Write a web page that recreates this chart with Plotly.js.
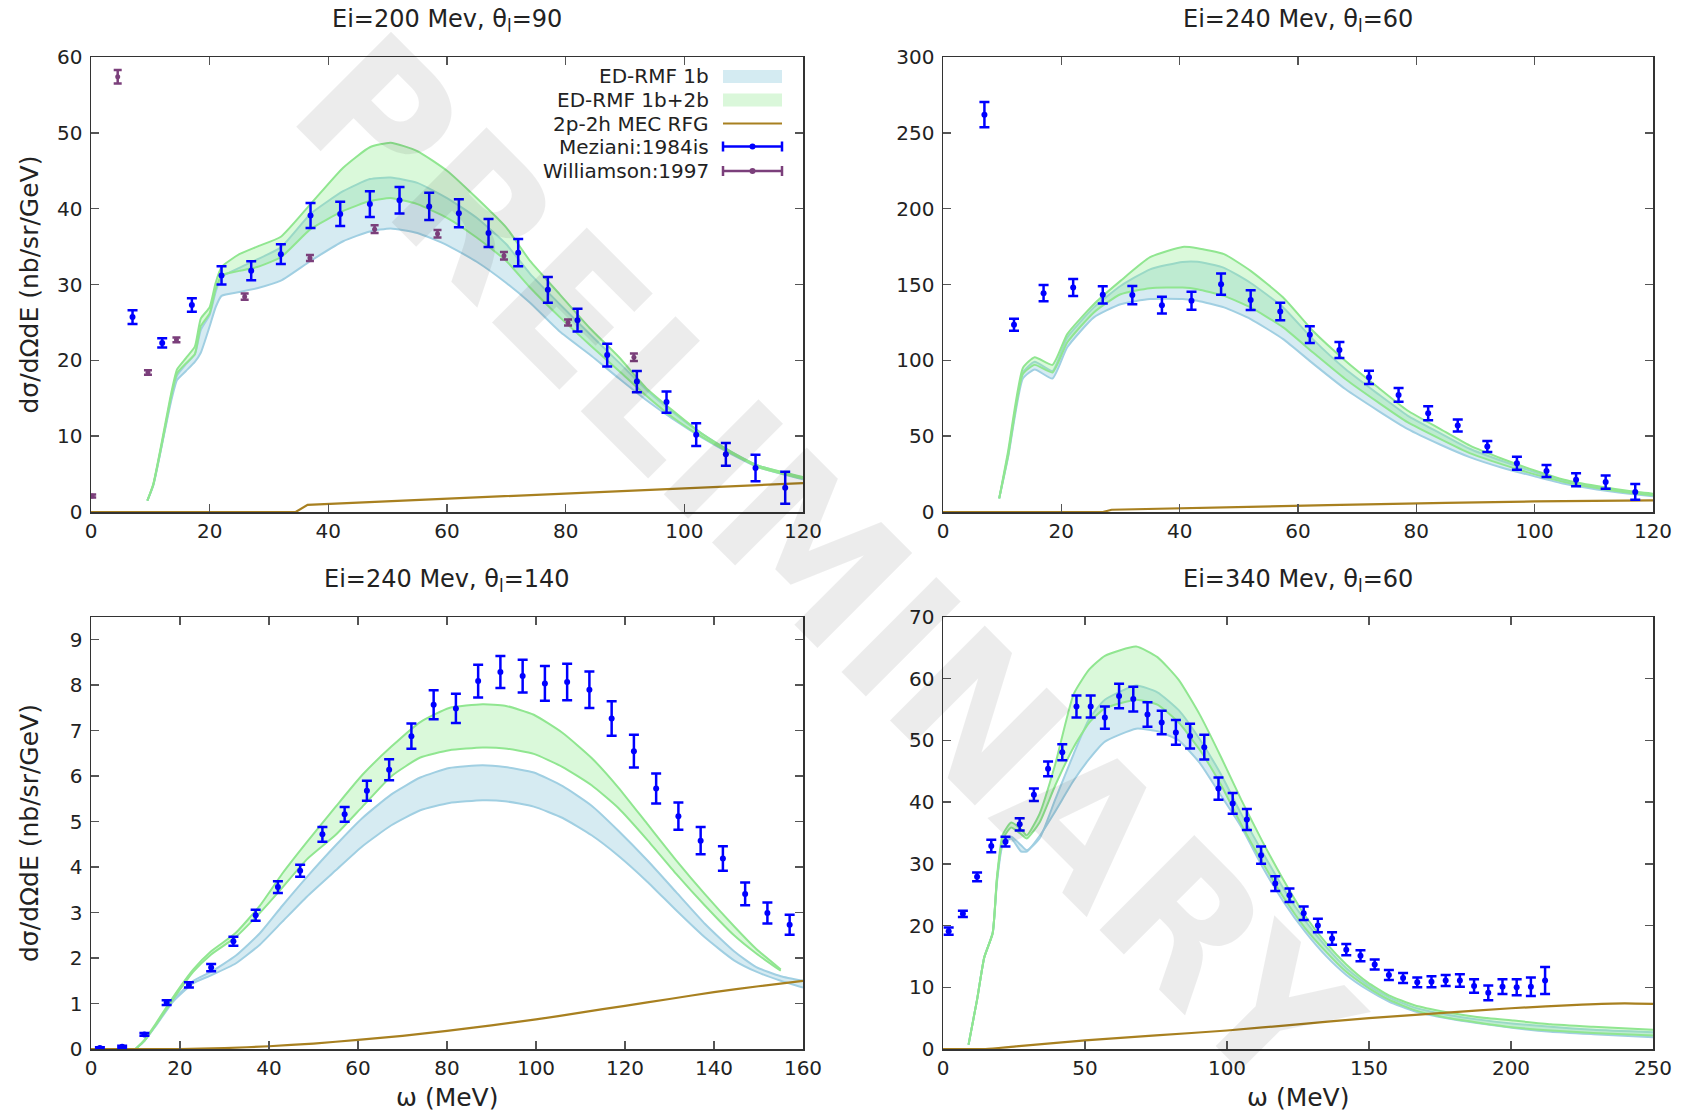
<!DOCTYPE html>
<html>
<head>
<meta charset="utf-8">
<script src="https://cdn.plot.ly/plotly-3.0.1.min.js"></script>
<style>html,body{margin:0;padding:0;background:#fff}#chart{width:1683px;height:1112px}</style>
</head>
<body>
<div id="chart"></div>
<script>
// ---------------- Panel 1: Ei=200 MeV, theta=90 ----------------
const p1BandX   = [9.5,10.5,12,13.5,14.5,16,17.5,18.5,20,21,22,25,28,32,37,42.5,47,50.5,55,60,65,70,74,79,84,89,93.5,98,103,108,112.5,120];
const p1BlueLo  = [1.5,3.5,9.0,14.6,17.4,18.6,19.8,21.0,24.5,27.0,28.5,29.0,29.5,30.5,33.1,35.7,37.0,37.4,36.8,35.2,33.0,30.2,27.6,23.8,20.8,17.6,14.8,12.3,9.8,7.6,5.9,4.3];
const p1BlueHi  = [1.5,3.6,9.2,15.0,18.0,19.5,20.8,24.0,26.0,29.0,31.0,32.2,33.3,34.9,39.3,42.3,43.9,44.1,43.4,41.4,38.8,35.3,31.4,27.4,23.5,19.7,16.2,13.2,10.3,7.9,6.1,4.5];
const p1GreenLo = [1.5,3.6,9.2,15.2,18.3,19.6,20.8,24.5,26.2,29.4,31.2,31.8,32.3,33.6,37.3,39.7,41.0,41.4,40.6,38.8,36.2,33.1,29.6,25.7,22.1,18.6,15.4,12.5,9.9,7.7,5.9,4.4];
const p1GreenHi = [1.5,3.7,9.5,15.6,18.8,20.3,21.8,25.5,27.0,30.2,32.3,34.0,35.0,36.3,40.6,45.4,48.1,48.7,47.6,45.0,41.4,37.5,33.1,28.7,24.3,20.4,16.4,13.4,10.3,7.9,6.1,4.6];
const p1MecX    = [0,34.5,36.5,60,80,100,120];
const p1MecY    = [0,0,0.95,1.75,2.45,3.1,3.8];
const p1MezX    = [7,12,17,22,27,32,37,42,47,52,57,62,67,72,77,82,87,92,97,102,107,112,117];
const p1MezY    = [25.7,22.3,27.3,31.2,31.8,34.0,39.1,39.3,40.6,41.1,40.3,39.4,36.8,34.2,29.3,25.3,20.7,17.2,14.5,10.2,7.6,5.8,3.2];
const p1MezE    = [0.9,0.6,0.9,1.2,1.25,1.3,1.65,1.6,1.7,1.75,1.8,1.85,1.85,1.8,1.7,1.5,1.5,1.4,1.4,1.5,1.5,1.75,2.1];
const p1WilX    = [0.2,4.5,9.6,14.4,25.9,36.9,47.8,58.4,69.6,80.4,91.5];
const p1WilY    = [2.1,57.4,18.4,22.7,28.4,33.5,37.3,36.7,33.8,25.0,20.4];
const p1WilE    = [0.2,0.9,0.3,0.3,0.4,0.4,0.5,0.5,0.5,0.4,0.5];

// ---------------- Panel 2: Ei=240 MeV, theta=60 ----------------
const p2BandX   = [9.5,11,13.5,15.5,18.5,21,25.5,30,35,40.5,43,47.5,52,57.5,62.5,68,73.5,78.5,84,89,94.5,100,105,110.5,116,120];
const p2BlueLo  = [9,36,88,94,88,108.6,128.3,137,140.4,140.4,139.3,134.9,127.2,114,98,81.1,66.9,54.8,44.5,36.2,29.2,23.5,18.6,14.9,12.1,10.3];
const p2BlueHi  = [9,38,92,99,93,115,134.9,149,160,164.9,165,161,151,134.9,114,94.3,77.9,63.6,52,41.7,33.6,26.3,20.4,16.4,13.2,11.4];
const p2GreenLo = [9,37,91,97,92,111.8,131.6,143.6,147.6,148,146.9,142.5,134.9,121.7,105.3,87.7,72.4,59.2,48.2,38.8,31.4,24.8,19.7,15.8,12.7,11];
const p2GreenHi = [9,40,95,102,97,117.3,137,152.4,168,174.8,173.9,170,159,141.4,119.5,99.8,82.2,66.9,54.8,43.9,35.1,27.4,21.3,17.1,13.8,12.1];
const p2MecX    = [0,27,28.5,45,65,85,100,120];
const p2MecY    = [0,0,1.5,3,4.5,6,7,7.7];
const p2MezX    = [7,12,17,22,27,32,37,42,47,52,57,62,67,72,77,82,87,92,97,102,107,112,117];
const p2MezY    = [262,123.5,144.3,148,143.2,143,136.4,139.3,150.2,139.7,132.2,116.9,106.8,88.8,77.2,65.1,57,43.2,32.2,27,21.3,19.7,13.2];
const p2MezE    = [8.3,4,5.4,5.6,5.7,6,5.6,6,7,6.5,5.7,5.5,5.3,4.4,4.5,4.6,4,3.6,4.3,4,4.3,4.4,5.2];

// ---------------- Panel 3: Ei=240 MeV, theta=140 ----------------
const p3BlueX   = [10,12,14.5,18.5,23,27,32.5,38,43,48.5,55,61,67.5,74,80.5,88,93,99.5,106,112.5,118.5,125,131.5,138,144.5,149.5,155,160];
const p3BlueLo  = [0,0.18,0.5,1.05,1.45,1.62,1.88,2.3,2.8,3.35,3.93,4.46,4.92,5.25,5.41,5.47,5.45,5.33,5.08,4.7,4.25,3.68,3.05,2.45,1.95,1.7,1.5,1.35];
const p3BlueHi  = [0,0.18,0.52,1.08,1.5,1.7,2.05,2.55,3.15,3.78,4.48,5.08,5.6,5.97,6.18,6.24,6.2,6.08,5.78,5.35,4.8,4.15,3.45,2.75,2.15,1.8,1.6,1.5];
const p3GreenX  = [10,12,14.5,18.5,23,27,32.5,38,43,48.5,55,61,67.5,74,80.5,88,93,99.5,106,112.5,118.5,125,131.5,138,144.5,149.5,155];
const p3GreenLo = [0,0.18,0.52,1.1,1.7,2.08,2.46,3.0,3.55,4.17,4.71,5.33,6.0,6.41,6.57,6.63,6.61,6.49,6.2,5.8,5.3,4.6,3.85,3.15,2.5,2.1,1.72];
const p3GreenHi = [0,0.2,0.55,1.15,1.75,2.15,2.55,3.16,3.86,4.55,5.33,6.03,6.65,7.19,7.5,7.58,7.55,7.35,6.95,6.4,5.75,4.95,4.15,3.4,2.7,2.2,1.75];
const p3MecX    = [0,20,30,40,50,60,70,80,90,100,110,120,130,140,150,160];
const p3MecY    = [0,0,0.02,0.06,0.12,0.2,0.29,0.4,0.52,0.65,0.8,0.95,1.1,1.25,1.38,1.5];
const p3MezX    = [2,7,12,17,22,27,32,37,42,47,52,57,62,67,72,77,82,87,92,97,102,107,112,117,122,127,132,137,142,147,152,157];
const p3MezY    = [0.02,0.05,0.32,1.02,1.41,1.79,2.37,2.94,3.56,3.92,4.72,5.16,5.68,6.14,6.88,7.57,7.49,8.09,8.29,8.20,8.04,8.07,7.90,7.27,6.55,5.73,5.12,4.58,4.19,3.41,2.99,2.73];
const p3MezE    = [0.02,0.02,0.03,0.05,0.06,0.08,0.1,0.12,0.13,0.13,0.16,0.16,0.22,0.23,0.28,0.32,0.32,0.36,0.35,0.36,0.38,0.4,0.4,0.38,0.36,0.33,0.3,0.3,0.27,0.25,0.23,0.22];

// ---------------- Panel 4: Ei=340 MeV, theta=60 ----------------
const p4BandX   = [9,12,14.5,17.5,19,21,24,27.5,29.5,34,39.5,46,51.5,57,68,75.5,83,90.5,98,105,112.5,120,127.5,135,142,149.5,157,166,177,188,201,214,229,250];
const p4BlueLo  = [0.7,8.0,14.8,18.8,27.0,33.0,34.1,32.0,32.0,34.5,38.5,43.5,47.0,49.8,51.9,51.5,50.0,46.3,41.0,36.0,29.5,23.8,19.0,15.0,12.0,9.6,7.7,6.1,5.0,4.2,3.4,2.8,2.4,1.9];
const p4BlueHi  = [0.7,8.0,14.8,18.8,27.5,33.5,34.4,33.0,32.2,34.1,40.4,47.8,53.5,56.6,58.9,57.8,54.9,50.1,44.4,38.1,31.9,25.9,20.8,16.5,13.1,10.4,8.4,6.7,5.6,4.8,4.1,3.6,3.1,2.7];
const p4GreenLo = [0.7,8.0,14.8,18.8,27.5,34.0,35.9,34.8,34.1,36.7,42.7,48.9,52.9,55.2,56.6,55.8,52.9,48.4,42.7,36.4,30.2,24.5,19.6,15.7,12.5,10.0,8.0,6.3,5.1,4.3,3.5,3.0,2.6,2.2];
const p4GreenHi = [0.7,8.0,14.8,18.8,27.9,34.7,36.7,35.6,34.6,38.1,46.1,57.5,61.5,63.7,65.2,63.5,59.8,54.1,47.2,40.4,33.6,27.3,21.6,17.1,13.7,10.8,8.7,7.1,6.0,5.2,4.6,4.0,3.6,3.1];
const p4MecX    = [0,15,25,50,75,100,125,150,175,200,225,240,250];
const p4MecY    = [0,0,0.4,1.4,2.2,3.0,4.0,5.0,5.8,6.6,7.2,7.4,7.3];
const p4MezX    = [2,7,12,17,22,27,32,37,42,47,52,57,62,67,72,77,82,87,92,97,102,107,112,117,122,127,132,137,142,147,152,157,162,167,172,177,182,187,192,197,202,207,212];
const p4MezY    = [19.1,21.9,27.9,32.9,33.6,36.4,41.2,45.4,48.1,55.5,55.5,53.7,57.2,56.7,54.2,52.9,51.3,50.7,48.9,42.2,39.8,37.2,31.4,26.8,24.9,22.0,20.0,17.9,16.1,15.1,13.7,12.0,11.5,10.8,10.9,11.1,11.1,10.2,9.1,10.1,10.0,10.1,11.1];
const p4MezE    = [0.6,0.5,0.7,1.0,0.8,1.0,1.0,1.2,1.3,1.8,1.8,1.8,2.0,2.0,2.0,1.9,2.0,2.0,2.0,1.8,1.7,1.7,1.4,1.2,1.1,1.1,1.1,1.0,0.9,0.9,0.8,0.8,0.8,0.8,0.9,0.9,1.0,1.1,1.2,1.2,1.3,1.5,2.2];

// ---------------- Text ----------------
const panelTitles = ['Ei=200 Mev, θ<sub>l</sub>=90','Ei=240 Mev, θ<sub>l</sub>=60','Ei=240 Mev, θ<sub>l</sub>=140','Ei=340 Mev, θ<sub>l</sub>=60'];
const legendNames = ['ED-RMF 1b','ED-RMF 1b+2b','2p-2h MEC RFG','Meziani:1984is','Williamson:1997'];
const yTitle = 'dσ/dΩdE (nb/sr/GeV)';
const xTitle = 'ω (MeV)';
const watermark = 'PRELIMINARY';

// ---------------- Styles ----------------
const FONT = 'DejaVu Sans, sans-serif';
const BLUE_LINE = 'rgb(160,207,226)';
const BLUE_FILL = 'rgba(173,216,230,0.5)';
const GREEN_LINE = 'rgb(144,230,144)';
const GREEN_FILL = 'rgba(144,238,144,0.33)';
const MEC_COLOR = '#a88020';
const MEZ_COLOR = '#0000ff';
const WIL_COLOR = '#7b3f7b';

function band(x, lo, hi, lineColor, fillColor, xa, ya) {
  const ln = {color: lineColor, width: 2, shape: 'spline', smoothing: 0.5};
  return [
    {x: x, y: lo, xaxis: xa, yaxis: ya, mode: 'lines', line: ln, showlegend: false, hoverinfo: 'skip'},
    {x: x, y: hi, xaxis: xa, yaxis: ya, mode: 'lines', fill: 'tonexty', fillcolor: fillColor, line: ln, showlegend: false, hoverinfo: 'skip'}
  ];
}
function mec(x, y, xa, ya, smooth) {
  const ln = {color: MEC_COLOR, width: 2.2};
  if (smooth) { ln.shape = 'spline'; ln.smoothing = 0.6; }
  return {x: x, y: y, xaxis: xa, yaxis: ya, mode: 'lines', line: ln, showlegend: false};
}
function pts(x, y, e, color, xa, ya, capw, msize) {
  return {x: x, y: y, xaxis: xa, yaxis: ya, mode: 'markers', marker: {color: color, size: msize},
          error_y: {type: 'data', array: e, visible: true, color: color, thickness: 2.5, width: capw}, showlegend: false};
}

const data = [].concat(
  band(p1BandX, p1BlueLo, p1BlueHi, BLUE_LINE, BLUE_FILL, 'x', 'y'),
  band(p1BandX, p1GreenLo, p1GreenHi, GREEN_LINE, GREEN_FILL, 'x', 'y'),
  [mec(p1MecX, p1MecY, 'x', 'y', false),
   pts(p1WilX, p1WilY, p1WilE, WIL_COLOR, 'x', 'y', 4, 5),
   pts(p1MezX, p1MezY, p1MezE, MEZ_COLOR, 'x', 'y', 5, 6)],
  band(p2BandX, p2BlueLo, p2BlueHi, BLUE_LINE, BLUE_FILL, 'x2', 'y2'),
  band(p2BandX, p2GreenLo, p2GreenHi, GREEN_LINE, GREEN_FILL, 'x2', 'y2'),
  [mec(p2MecX, p2MecY, 'x2', 'y2', false),
   pts(p2MezX, p2MezY, p2MezE, MEZ_COLOR, 'x2', 'y2', 5, 6)],
  band(p3BlueX, p3BlueLo, p3BlueHi, BLUE_LINE, BLUE_FILL, 'x3', 'y3'),
  band(p3GreenX, p3GreenLo, p3GreenHi, GREEN_LINE, GREEN_FILL, 'x3', 'y3'),
  [mec(p3MecX, p3MecY, 'x3', 'y3', true),
   pts(p3MezX, p3MezY, p3MezE, MEZ_COLOR, 'x3', 'y3', 5, 6)],
  band(p4BandX, p4BlueLo, p4BlueHi, BLUE_LINE, BLUE_FILL, 'x4', 'y4'),
  band(p4BandX, p4GreenLo, p4GreenHi, GREEN_LINE, GREEN_FILL, 'x4', 'y4'),
  [mec(p4MecX, p4MecY, 'x4', 'y4', true),
   pts(p4MezX, p4MezY, p4MezE, MEZ_COLOR, 'x4', 'y4', 5, 6)]
);

const W = 1683, H = 1112;
const px = v => v / W;
const py = v => 1 - v / H;
const XL = [px(91), px(803)], XR = [px(943), px(1653)];
const YT = [py(512), py(57)], YB = [py(1049), py(617)];

function ax(domain, range, dtick, anchor, isX) {
  return {domain: domain, range: range, dtick: dtick, tick0: 0, anchor: anchor,
          ticks: 'inside', ticklen: 8, tickwidth: 1.5, tickcolor: '#555',
          showline: true, linecolor: '#333', linewidth: 1.5, mirror: 'allticks',
          showgrid: false, zeroline: false, ticklabelstandoff: isX ? 0 : 3,
          tickfont: {family: FONT, size: 20, color: '#222'}, fixedrange: true};
}

const annotations = [];
const titleFont = {family: FONT, size: 24, color: '#222'};
const axisTitleFont = {family: FONT, size: 25, color: '#222'};
[[ (XL[0]+XL[1])/2, py(20) ], [ (XR[0]+XR[1])/2, py(20) ], [ (XL[0]+XL[1])/2, py(580) ], [ (XR[0]+XR[1])/2, py(580) ]].forEach((p, i) => {
  annotations.push({text: panelTitles[i], x: p[0], y: p[1], xref: 'paper', yref: 'paper', xanchor: 'center', yanchor: 'middle', showarrow: false, font: titleFont});
});
[ (YT[0]+YT[1])/2, (YB[0]+YB[1])/2 ].forEach(yc => {
  annotations.push({text: yTitle, x: px(29), y: yc, xref: 'paper', yref: 'paper', xanchor: 'center', yanchor: 'middle', textangle: -90, showarrow: false, font: axisTitleFont});
});
[ (XL[0]+XL[1])/2, (XR[0]+XR[1])/2 ].forEach(xc => {
  annotations.push({text: xTitle, x: xc, y: py(1097), xref: 'paper', yref: 'paper', xanchor: 'center', yanchor: 'middle', showarrow: false, font: axisTitleFont});
});

// legend (gnuplot style: text right-aligned, sample on the right)
const legRows = [76.5, 100, 123.5, 146.5, 171];
const legTextX = 711, s0 = 723, s1 = 782;
const shapes = [];
legendNames.forEach((n, i) => {
  annotations.push({text: n, x: px(legTextX), y: py(legRows[i]), xref: 'paper', yref: 'paper', xanchor: 'right', yanchor: 'middle', showarrow: false, font: {family: FONT, size: 20, color: '#222'}});
});
const pr = {xref: 'paper', yref: 'paper'};
shapes.push(Object.assign({type: 'rect', x0: px(s0), x1: px(s1), y0: py(legRows[0]-6.5), y1: py(legRows[0]+6.5), fillcolor: 'rgb(212,235,242)', line: {width: 0}}, pr));
shapes.push(Object.assign({type: 'rect', x0: px(s0), x1: px(s1), y0: py(legRows[1]-6.5), y1: py(legRows[1]+6.5), fillcolor: 'rgb(218,247,218)', line: {width: 0}}, pr));
shapes.push(Object.assign({type: 'line', x0: px(s0), x1: px(s1), y0: py(legRows[2]), y1: py(legRows[2]), line: {color: MEC_COLOR, width: 2.2}}, pr));
[[legRows[3], MEZ_COLOR], [legRows[4], WIL_COLOR]].forEach(r => {
  const yy = r[0], c = r[1];
  shapes.push(Object.assign({type: 'line', x0: px(s0), x1: px(s1), y0: py(yy), y1: py(yy), line: {color: c, width: 2.5}}, pr));
  shapes.push(Object.assign({type: 'line', x0: px(s0), x1: px(s0), y0: py(yy-5), y1: py(yy+5), line: {color: c, width: 2.5}}, pr));
  shapes.push(Object.assign({type: 'line', x0: px(s1), x1: px(s1), y0: py(yy-5), y1: py(yy+5), line: {color: c, width: 2.5}}, pr));
  shapes.push(Object.assign({type: 'circle', x0: px((s0+s1)/2-3), x1: px((s0+s1)/2+3), y0: py(yy-3), y1: py(yy+3), fillcolor: c, line: {color: c, width: 0}}, pr));
});

// watermark
annotations.push({text: watermark, x: px(826), y: py(566), xref: 'paper', yref: 'paper', xanchor: 'center', yanchor: 'middle',
  textangle: 45, showarrow: false, font: {family: 'DejaVu Sans, sans-serif', size: 184, color: 'rgba(0,0,0,0.075)', weight: 'bold'}});

const layout = {
  width: W, height: H, margin: {l: 0, r: 0, t: 0, b: 0},
  paper_bgcolor: '#fff', plot_bgcolor: '#fff', showlegend: false,
  xaxis: ax(XL, [0, 120], 20, 'y', true),
  yaxis: ax(YT, [0, 60], 10, 'x', false),
  xaxis2: ax(XR, [0, 120], 20, 'y2', true),
  yaxis2: ax(YT, [0, 300], 50, 'x2', false),
  xaxis3: ax(XL, [0, 160], 20, 'y3', true),
  yaxis3: ax(YB, [0, 9.5], 1, 'x3', false),
  xaxis4: ax(XR, [0, 250], 50, 'y4', true),
  yaxis4: ax(YB, [0, 70], 10, 'x4', false),
  annotations: annotations, shapes: shapes
};

Plotly.newPlot('chart', data, layout, {staticPlot: true});
</script>
</body>
</html>
